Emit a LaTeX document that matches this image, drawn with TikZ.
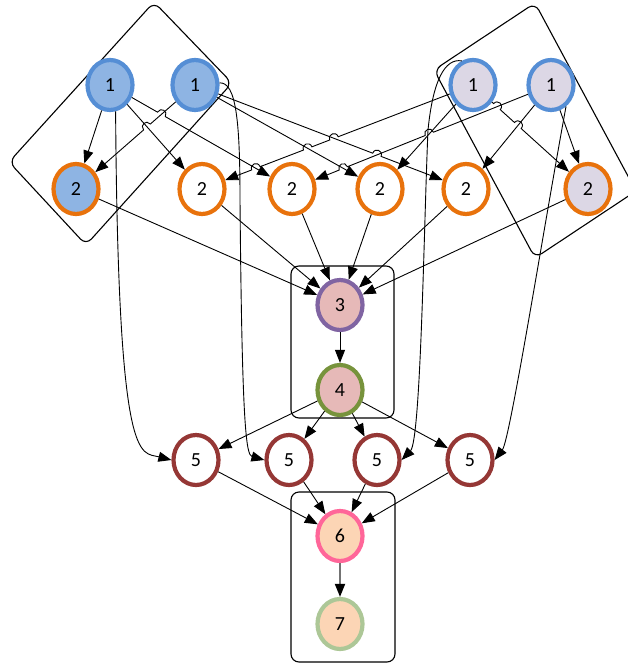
\documentclass[tikz,border=0pt]{standalone}
\usepackage{fontspec}
\setmainfont{Carlito}
\usetikzlibrary{arrows.meta,shapes.geometric,calc}
\definecolor{blueline}{HTML}{558ED5}
\definecolor{bluefill}{HTML}{8EB4E3}
\definecolor{lilac}{HTML}{DCD7E5}
\definecolor{orangeline}{HTML}{E8720C}
\definecolor{purpleline}{HTML}{8064A2}
\definecolor{rosefill}{HTML}{E6B9B8}
\definecolor{oliveline}{HTML}{77933C}
\definecolor{brickline}{HTML}{953735}
\definecolor{pinkline}{HTML}{FF6699}
\definecolor{peachfill}{HTML}{FCD5B5}
\definecolor{sageline}{HTML}{ADC797}
\begin{document}
\begin{tikzpicture}[x=1pt,y=1pt,
  state/.style={ellipse,minimum width=45pt,minimum height=50pt,line width=4.2pt,
    inner sep=0pt,font=\fontsize{20}{24}\selectfont},
  group/.style={draw,line width=1.1pt,rounded corners=8pt,inner sep=0pt},
  frame/.style={draw,line width=1.1pt,rounded corners=8pt},
  arr/.style={line width=0.9pt,-{Triangle[length=13pt,width=10pt]}},
  hopL/.style={bend left=90,looseness=1.8},
  hopR/.style={bend right=90,looseness=1.8}]
\useasboundingbox (0,0) rectangle (627,-663);

% grouping frames
\draw[frame] (154,-2) -- (232,-83) -- (86,-245) -- (9,-162) -- cycle;
\draw[frame] (535,-3) -- (636,-191) -- (535,-258) -- (434,-70) -- cycle;
\node[group,minimum width=103pt,minimum height=152pt] (g3) at (342.5,-342) {};
\node[group,minimum width=104pt,minimum height=170pt] (g4) at (343,-577) {};

% states
\node[state,draw=blueline,fill=bluefill] (n1a) at (110,-85) {1};
\node[state,draw=blueline,fill=bluefill] (n1b) at (195,-85) {1};
\node[state,draw=blueline,fill=lilac] (n1c) at (473,-85) {1};
\node[state,draw=blueline,fill=lilac] (n1d) at (551,-85) {1};

\node[state,draw=orangeline,fill=bluefill] (n2a) at (76,-189) {2};
\node[state,draw=orangeline,fill=white] (n2b) at (202,-189) {2};
\node[state,draw=orangeline,fill=white] (n2c) at (292,-189) {2};
\node[state,draw=orangeline,fill=white] (n2d) at (380,-189) {2};
\node[state,draw=orangeline,fill=white] (n2e) at (466,-189) {2};
\node[state,draw=orangeline,fill=lilac] (n2f) at (588,-189) {2};

\node[state,draw=purpleline,fill=rosefill] (n3) at (340,-305) {3};
\node[state,draw=oliveline,fill=rosefill] (n4) at (340,-390) {4};

\node[state,draw=brickline,fill=white] (n5a) at (196,-460) {5};
\node[state,draw=brickline,fill=white] (n5b) at (289,-460) {5};
\node[state,draw=brickline,fill=white] (n5c) at (377,-460) {5};
\node[state,draw=brickline,fill=white] (n5d) at (470,-460) {5};

\node[state,draw=pinkline,fill=peachfill] (n6) at (340,-536) {6};
\node[state,draw=sageline,fill=peachfill] (n7) at (340,-624) {7};

% crossing points where a connector jumps over another
\coordinate (h3)  at ($(n1a)!0.2824!(n2c)$);
\coordinate (h4)  at ($(n1b)!0.4034!(n2a)$);
\coordinate (h7a) at ($(n1c)!0.5129!(n2b)$);
\coordinate (h7b) at ($(n1c)!0.6100!(n2b)$);
\coordinate (h7c) at ($(n1c)!0.8011!(n2b)$);
\coordinate (h10a) at ($(n1d)!0.4699!(n2c)$);
\coordinate (h10b) at ($(n1d)!0.8019!(n2c)$);
\coordinate (h6)  at ($(n1b)!0.6712!(n2e)$);
\coordinate (h9a) at ($(n1c)!0.2078!(n2f)$);
\coordinate (h9b) at ($(n1c)!0.3896!(n2f)$);

% first level to second level
\draw[arr] (n1a) -- (n2a);
\draw[arr] (n1a) -- (n2b);
\draw[arr] (n1a) -- ($(h3)!4.5pt!(n1a)$) to[hopL] ($(h3)!4.5pt!(n2c)$) -- (n2c);
\draw[arr] (n1b) -- ($(h4)!4.5pt!(n1b)$) to[hopR] ($(h4)!4.5pt!(n2a)$) -- (n2a);
\draw[arr] (n1b) -- (n2d);
\draw[arr] (n1b) -- ($(h6)!4.5pt!(n1b)$) to[hopL] ($(h6)!4.5pt!(n2e)$) -- (n2e);
\draw[arr] (n1c) -- ($(h7a)!4.5pt!(n1c)$) to[hopR] ($(h7a)!4.5pt!(n2b)$)
  -- ($(h7b)!4.5pt!(n1c)$) to[hopR] ($(h7b)!4.5pt!(n2b)$)
  -- ($(h7c)!4.5pt!(n1c)$) to[hopR] ($(h7c)!4.5pt!(n2b)$) -- (n2b);
\draw[arr] (n1c) -- (n2d);
\draw[arr] (n1c) -- ($(h9a)!4.5pt!(n1c)$) to[hopL] ($(h9a)!4.5pt!(n2f)$)
  -- ($(h9b)!4.5pt!(n1c)$) to[hopL] ($(h9b)!4.5pt!(n2f)$) -- (n2f);
\draw[arr] (n1d) -- ($(h10a)!4.5pt!(n1d)$) to[hopR] ($(h10a)!4.5pt!(n2c)$)
  -- ($(h10b)!4.5pt!(n1d)$) to[hopR] ($(h10b)!4.5pt!(n2c)$) -- (n2c);
\draw[arr] (n1d) -- (n2e);
\draw[arr] (n1d) -- (n2f);

% long bypasses from the first level down to the fifth
\draw[arr] (n1a.-78) .. controls (118,-470) and (140,-452) .. (n5a.west);
\draw[arr] (n1b.5) .. controls (236,-82) and (240,-120) .. (240,-200)
  .. controls (242,-425) and (246,-455) .. (n5b.west);
\draw[arr] (n1c.115) .. controls (445,-58) and (433,-80) .. (428,-130)
  .. controls (424,-220) and (421,-440) .. (n5c.east);
\draw[arr] (n1d.-55) .. controls (545,-220) and (510,-440) .. (n5d.east);

% second level into the merge
\foreach \s in {n2a,n2b,n2c,n2d,n2e,n2f} \draw[arr] (\s) -- (n3);
\draw[arr] (n3) -- (n4);
\foreach \s in {n5a,n5b,n5c,n5d} {
  \draw[arr] (n4) -- (\s);
  \draw[arr] (\s) -- (n6);
}
\draw[line width=1.8pt,draw=black!55,-{Triangle[length=13pt,width=10pt,color=black]}] (n6) -- (n7);
\end{tikzpicture}
\end{document}
